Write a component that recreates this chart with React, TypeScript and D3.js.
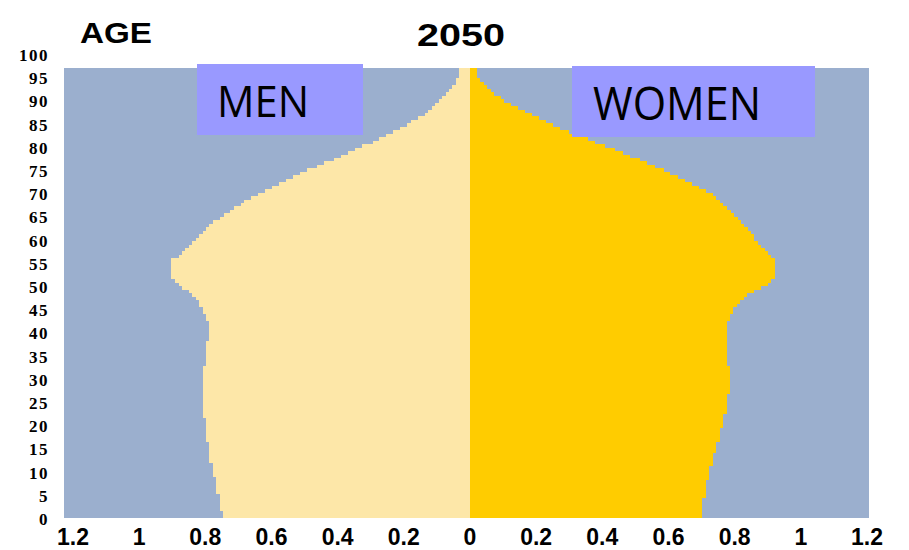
import React from "react";
import * as d3 from "d3";

// Share of population (%) by single-year bar, bottom (index 0) to top
const menValues: number[] = [
  0.746, 0.746,
  0.755, 0.755, 0.755, 0.755, 0.755,
  0.767, 0.767, 0.767, 0.767, 0.767,
  0.776, 0.776, 0.776, 0.776,
  0.789, 0.789, 0.789, 0.789, 0.789, 0.789,
  0.798, 0.798, 0.798, 0.798, 0.798, 0.798, 0.798,
  0.807, 0.807, 0.807, 0.807, 0.807, 0.807, 0.807, 0.807, 0.807, 0.807, 0.807, 0.807, 0.807, 0.807, 0.807,
  0.798, 0.798, 0.798, 0.798, 0.798, 0.798, 0.798,
  0.789, 0.789, 0.789, 0.789, 0.789, 0.789,
  0.798, 0.798,
  0.808, 0.808,
  0.819, 0.819,
  0.829, 0.839, 0.849, 0.870, 0.881, 0.891,
  0.903, 0.903, 0.903, 0.903, 0.903, 0.903,
  0.881, 0.870, 0.860, 0.849, 0.839, 0.829, 0.819, 0.808, 0.798, 0.788,
  0.776, 0.755, 0.745, 0.725, 0.713, 0.693, 0.683, 0.662, 0.640, 0.619,
  0.597, 0.577, 0.556, 0.534, 0.514, 0.492, 0.462, 0.441, 0.411, 0.390,
  0.369, 0.347, 0.326, 0.294, 0.274, 0.254, 0.233, 0.211, 0.190, 0.178,
  0.158, 0.136, 0.126, 0.116, 0.105, 0.095, 0.085, 0.073, 0.063, 0.053,
  0.042, 0.042,
  0.033, 0.033, 0.033,
];

const womenValues: number[] = [
  0.701, 0.701, 0.701, 0.701, 0.701, 0.701,
  0.713, 0.713, 0.713, 0.713, 0.713,
  0.723, 0.723, 0.723, 0.723,
  0.734, 0.734, 0.734, 0.734,
  0.743, 0.743, 0.743,
  0.755, 0.755, 0.755, 0.755,
  0.765, 0.765, 0.765, 0.765,
  0.776, 0.776, 0.776, 0.776, 0.776, 0.776,
  0.785, 0.785, 0.785, 0.785, 0.785, 0.785, 0.785, 0.785,
  0.776, 0.776, 0.776, 0.776, 0.776, 0.776, 0.776, 0.776, 0.776, 0.776, 0.776, 0.776, 0.776,
  0.785, 0.785,
  0.795, 0.795,
  0.806, 0.816, 0.828, 0.838, 0.858,
  0.880, 0.900, 0.911,
  0.921, 0.921, 0.921, 0.921, 0.921, 0.921,
  0.911, 0.901, 0.891, 0.880, 0.870,
  0.859, 0.859,
  0.849, 0.839, 0.829, 0.819, 0.809, 0.798, 0.789, 0.776, 0.765, 0.755,
  0.743, 0.733, 0.713, 0.693, 0.671, 0.650, 0.628, 0.606, 0.586, 0.558,
  0.536, 0.514, 0.483, 0.461, 0.439, 0.409, 0.379, 0.357, 0.332, 0.300,
  0.272, 0.250, 0.230, 0.208, 0.187, 0.165, 0.145, 0.123, 0.103, 0.093,
  0.073, 0.063, 0.052, 0.042, 0.030, 0.022,
  0.020, 0.020,
];

const ageTicks: number[] = [0, 5, 10, 15, 20, 25, 30, 35, 40, 45, 50, 55, 60, 65, 70, 75, 80, 85, 90, 95, 100];
const xTicks: number[] = [-1.2, -1, -0.8, -0.6, -0.4, -0.2, 0, 0.2, 0.4, 0.6, 0.8, 1, 1.2];

const title = "2050";
const yTitle = "AGE";
const menLabel = "MEN";
const womenLabel = "WOMEN";

const W = 909;
const H = 550;

export default function App() {
  const plot = { left: 64, right: 869, top: 68, bottom: 518 };
  const x = d3.scaleLinear().domain([-1.2, 1.2]).range([73, 867]);
  const idx = d3.range(menValues.length);
  const yBand = d3
    .scaleBand<number>()
    .domain(idx)
    .range([plot.bottom, plot.top])
    .paddingInner(0)
    .paddingOuter(0);
  const ageScale = d3.scaleLinear().domain([0, 100]).range([519, 55]);
  const fmt = (v: number) => {
    const a = Math.abs(v);
    return a === 0 ? "0" : d3.format("~g")(a);
  };

  return (
    <svg
      width={W}
      height={H}
      viewBox={`0 0 ${W} ${H}`}
      style={{ position: "absolute", left: 0, top: 0, background: "#ffffff" }}
    >
      <rect
        x={plot.left}
        y={plot.top}
        width={plot.right - plot.left}
        height={plot.bottom - plot.top}
        fill="#9BAFCE"
      />
      <g shapeRendering="crispEdges">
        {menValues.map((v, i) => (
          <rect
            key={"m" + i}
            x={x(-v)}
            y={yBand(i)!}
            width={x(0) - x(-v)}
            height={yBand.bandwidth() + 0.3}
            fill="#FDE7A8"
          />
        ))}
        {womenValues.map((v, i) => (
          <rect
            key={"w" + i}
            x={x(0)}
            y={yBand(i)!}
            width={x(v) - x(0)}
            height={yBand.bandwidth() + 0.3}
            fill="#FFCC00"
          />
        ))}
      </g>

      {/* label boxes */}
      <rect x={197} y={64} width={166} height={71} fill="#9999FF" />
      <text
        x={217}
        y={117}
        fontFamily="'Open Sans', 'Liberation Sans', sans-serif"
        fontSize={44}
        textLength={92}
        lengthAdjust="spacingAndGlyphs"
        fill="#000"
      >
        {menLabel}
      </text>
      <rect x={572} y={66} width={243} height={71} fill="#9999FF" />
      <text
        x={593}
        y={120}
        fontFamily="'Open Sans', 'Liberation Sans', sans-serif"
        fontSize={45}
        textLength={168}
        lengthAdjust="spacingAndGlyphs"
        fill="#000"
      >
        {womenLabel}
      </text>

      {/* titles */}
      <text
        x={417}
        y={46}
        fontFamily="'Liberation Sans', Arial, sans-serif"
        fontWeight="bold"
        fontSize={32}
        textLength={88}
        lengthAdjust="spacingAndGlyphs"
        fill="#000"
      >
        {title}
      </text>
      <text
        x={80}
        y={43}
        fontFamily="'Liberation Sans', Arial, sans-serif"
        fontWeight="bold"
        fontSize={30}
        textLength={72}
        lengthAdjust="spacingAndGlyphs"
        fill="#000"
      >
        {yTitle}
      </text>

      {/* age axis labels */}
      {ageTicks.map((a) => (
        <text
          key={"a" + a}
          x={49}
          y={ageScale(a)}
          dy="0.35em"
          textAnchor="end"
          fontFamily="'Liberation Serif', 'Times New Roman', serif"
          fontWeight="bold"
          fontSize={17}
          letterSpacing={1.5}
          fill="#000"
        >
          {a}
        </text>
      ))}

      {/* x axis labels */}
      {xTicks.map((t) => (
        <text
          key={"x" + t}
          x={x(t)}
          y={545}
          textAnchor="middle"
          fontFamily="'Liberation Sans', Arial, sans-serif"
          fontWeight="bold"
          fontSize={23}
          fill="#000"
        >
          {fmt(t)}
        </text>
      ))}
    </svg>
  );
}
